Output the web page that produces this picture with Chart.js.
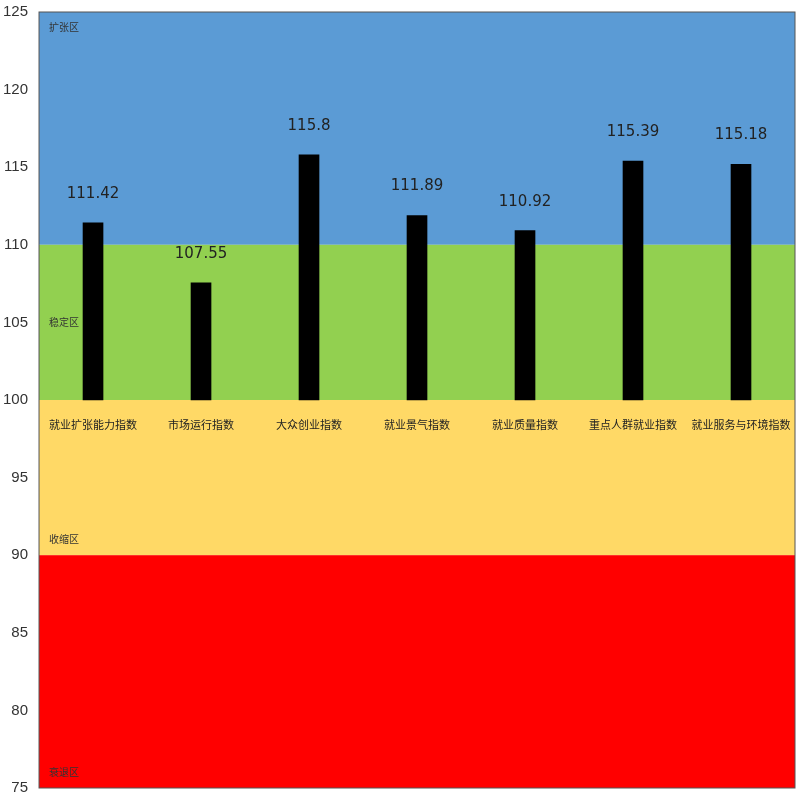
<!DOCTYPE html>
<html><head><meta charset="utf-8">
<script src="https://cdn.jsdelivr.net/npm/chart.js@4/dist/chart.umd.min.js"></script>
<style>body{margin:0;background:#fff}#wrap{width:800px;height:800px}</style>
</head><body><div id="wrap"><canvas id="c"></canvas></div>
<script>
var categories = ['就业扩张能力指数','市场运行指数','大众创业指数','就业景气指数','就业质量指数','重点人群就业指数','就业服务与环境指数'];
var values = [111.42, 107.55, 115.8, 111.89, 110.92, 115.39, 115.18];
var zoneNames = ['扩张区','稳定区','收缩区','衰退区'];
var zoneFrom = [110, 100, 90, 75];
var zoneTo = [125, 110, 100, 90];
var zoneLabelAt = [124, 105, 91, 76];
var zoneColors = ['#5b9bd5','#92d050','#ffd966','#ff0000'];

var bands = {
  id: 'bands',
  beforeDatasetsDraw: function(chart) {
    var ctx = chart.ctx, a = chart.chartArea, y = chart.scales.y, x = chart.scales.x;
    ctx.save();
    for (var i = 0; i < zoneFrom.length; i++) {
      var t = y.getPixelForValue(zoneTo[i]), b = y.getPixelForValue(zoneFrom[i]);
      ctx.fillStyle = zoneColors[i];
      ctx.fillRect(a.left, t, a.right - a.left, b - t);
    }
    ctx.fillStyle = '#333';
    ctx.font = '10px "Noto Sans CJK SC"';
    ctx.textBaseline = 'middle';
    for (var k = 0; k < zoneNames.length; k++) {
      ctx.fillText(zoneNames[k], a.left + 10, y.getPixelForValue(zoneLabelAt[k]));
    }
    ctx.strokeStyle = '#555';
    ctx.strokeRect(a.left, a.top, a.right - a.left, a.bottom - a.top);
    ctx.fillStyle = '#222';
    ctx.font = '11px "Noto Sans CJK SC"';
    ctx.textAlign = 'center';
    for (var j = 0; j < categories.length; j++) {
      ctx.fillText(categories[j], x.getPixelForValue(j), y.getPixelForValue(100) + 25);
    }
    ctx.restore();
  },
  afterDatasetsDraw: function(chart) {
    var ctx = chart.ctx, y = chart.scales.y, x = chart.scales.x;
    ctx.save();
    ctx.fillStyle = '#222';
    ctx.font = '15px "DejaVu Sans"';
    ctx.textAlign = 'center';
    for (var j = 0; j < values.length; j++) {
      ctx.fillText(String(values[j]), x.getPixelForValue(j), y.getPixelForValue(values[j]) - 25);
    }
    ctx.restore();
  }
};

new Chart(document.getElementById('c'), {
  type: 'bar',
  plugins: [bands],
  data: {
    labels: categories,
    datasets: [{
      data: values.map(function(v){ return [100, v]; }),
      backgroundColor: '#000',
      barThickness: 20
    }]
  },
  options: {
    responsive: true,
    maintainAspectRatio: false,
    animation: false,
    layout: { padding: { top: 10, right: 5, bottom: 10 } },
    plugins: { legend: { display: false }, tooltip: { enabled: false } },
    scales: {
      x: { display: false },
      y: {
        min: 75, max: 125,
        ticks: { stepSize: 5, color: '#333', font: { size: 15, family: 'Liberation Sans' } },
        grid: { display: false },
        border: { display: false }
      }
    }
  }
});
</script>
</body></html>
